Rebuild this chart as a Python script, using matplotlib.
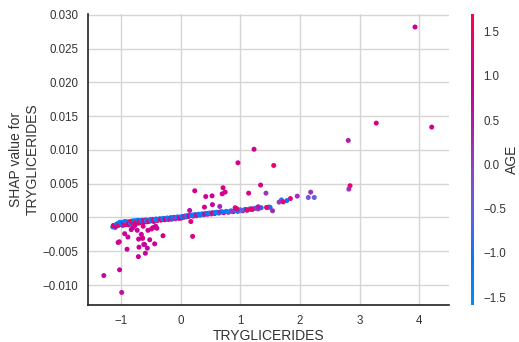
import numpy as np
import matplotlib
matplotlib.use("Agg")
import matplotlib.pyplot as plt
from matplotlib.colors import LinearSegmentedColormap

plt.rcParams['font.family'] = ['Liberation Sans', 'DejaVu Sans']

# feature value (TRYGLICERIDES), shap value, colour feature (AGE)
# main band of points
band_x = [-1.14, -1.12, -1.10, -1.08, -1.06, -1.05, -1.03, -1.01, -1.00, -0.98,
          -0.97, -0.95, -0.93, -0.91, -0.89, -0.87, -0.85, -0.83, -0.81, -0.79,
          -0.77, -0.75, -0.73, -0.71, -0.69, -0.67, -0.65, -0.63, -0.61, -0.59,
          -0.57, -0.55, -0.53, -0.51, -0.49, -0.47, -0.45, -0.43, -0.41, -0.39,
          -0.37, -0.35, -0.33, -0.31, -0.29, -0.27, -0.25, -0.23, -0.21, -0.19,
          -0.17, -0.15, -0.13, -0.11, -0.09, -0.07, -0.05, -0.03, -0.01, 0.01,
          0.03, 0.05, 0.07, 0.09, 0.11, 0.13, 0.15, 0.17, 0.19, 0.21,
          0.24, 0.27, 0.30, 0.33, 0.36, 0.39, 0.42, 0.45, 0.48, 0.51,
          0.54, 0.57, 0.60, 0.64, 0.68, 0.72, 0.76, 0.80, 0.84, 0.88,
          0.92, 0.96, 1.00, 1.04, 1.08, 1.12, 1.16, 1.20, 1.25, 1.30,
          -1.13, -1.09, -1.07, -1.04, -1.02, -0.99, -0.96, -0.94, -0.92, -0.90,
          -0.88, -0.86, -0.84, -0.82, -0.80, -0.78, -0.76, -0.74, -0.72, -0.70,
          -0.68, -0.66, -0.62, -0.60, -0.58, -0.54, -0.50, -0.46, -0.42, -0.38,
          -0.34, -0.30, -0.26, -0.22, -0.18, -0.14, -0.10, -0.06, -0.02, 0.02,
          0.06, 0.10, 0.14, 0.18, 0.22, 0.26, 0.31, 0.35, 0.40, 0.44,
          0.49, 0.53, 0.58, 0.62, 0.66, 0.70, 0.78, 0.86, 0.94, 1.02,
          1.10, 1.18, 1.27, 1.35, 0.94, 1.11, 1.20, 1.30, 1.45, 1.50]
band_y = [-0.00140, -0.00128, -0.00150, -0.00112, -0.00098, -0.00120, -0.00085, -0.00105, -0.00075, -0.00090,
          -0.00118, -0.00070, -0.00095, -0.00062, -0.00080, -0.00110, -0.00058, -0.00075, -0.00052, -0.00090,
          -0.00062, -0.00048, -0.00070, -0.00085, -0.00045, -0.00060, -0.00040, -0.00072, -0.00050, -0.00035,
          -0.00065, -0.00042, -0.00058, -0.00030, -0.00050, -0.00028, -0.00060, -0.00035, -0.00022, -0.00045,
          -0.00030, -0.00018, -0.00040, -0.00025, -0.00012, -0.00035, -0.00020, -0.00008, -0.00030, -0.00015,
          -0.00002, -0.00025, -0.00010, 0.00002, -0.00020, -0.00005, 0.00008, -0.00012, 0.00005, -0.00008,
          0.00014, 0.00002, 0.00022, 0.00008, 0.00026, 0.00014, 0.00033, -0.00060, 0.00036, 0.00020,
          0.00042, 0.00026, 0.00048, 0.00035, 0.00054, 0.00040, 0.00060, 0.00047, 0.00066, 0.00052,
          0.00072, 0.00058, 0.00078, 0.00064, 0.00085, 0.00070, 0.00090, 0.00076, 0.00098, 0.00085,
          0.00105, 0.00090, 0.00113, 0.00098, 0.00120, 0.00108, 0.00128, 0.00118, 0.00136, 0.00126,
          -0.00118, -0.00130, -0.00095, -0.00110, -0.00070, -0.00100, -0.00082, -0.00060, -0.00105, -0.00072,
          -0.00095, -0.00068, -0.00088, -0.00062, -0.00078, -0.00050, -0.00080, -0.00058, -0.00042, -0.00065,
          -0.00075, -0.00050, -0.00045, -0.00062, -0.00048, -0.00055, -0.00042, -0.00040, -0.00030, -0.00035,
          -0.00028, -0.00020, -0.00025, -0.00012, -0.00022, -0.00005, -0.00015, 0.00003, -0.00010, 0.00010,
          0.00015, 0.00018, 0.00024, 0.00027, 0.00034, 0.00036, 0.00042, 0.00046, 0.00050, 0.00058,
          0.00060, 0.00066, 0.00070, 0.00075, 0.00080, 0.00082, 0.00085, 0.00092, 0.00098, 0.00105,
          0.00114, 0.00122, 0.00132, 0.00144, 0.00130, 0.00110, 0.00128, 0.00150, 0.00150, 0.00150]
band_age = [-1.2, -1.0, -0.3, -1.3, 1.4, -1.1, -1.4, 1.2, -1.2, 1.5,
            0.9, -1.3, 1.3, -1.1, 1.5, 1.0, -1.4, 1.4, -1.2, 1.2,
            1.5, -1.3, -1.0, 1.3, -1.2, 1.4, -1.4, 1.1, -1.1, -1.3,
            1.5, -1.2, 0.4, -1.0, 1.3, -1.3, 0.8, -1.1, -1.4, 1.4,
            -0.6, -1.2, 1.2, -1.3, -0.9, 0.6, -1.2, -1.4, 1.4, 0.2,
            -1.1, 0.9, -1.3, 0.3, 1.2, -1.2, -0.8, 0.5, -1.3, 1.3,
            -1.1, 0.1, -1.4, 0.7, -1.2, 1.1, -0.9, 1.2, -1.3, 1.3,
            -1.1, 0.2, -1.4, 1.2, -1.2, -0.3, -1.3, 1.4, -1.0, 0.4,
            -1.4, 1.0, -1.2, -0.2, -1.3, 1.3, -1.1, 0.3, -1.2, 1.4,
            -1.0, -0.4, -1.3, 1.2, -1.1, 0.2, -0.8, 1.4, -1.2, 0.0,
            1.3, 1.0, -1.2, 1.5, -1.3, -1.1, 1.2, -1.2, 1.4, -1.4,
            0.9, 1.5, -0.9, 1.3, 1.5, -1.2, 1.1, 1.4, -1.3, 1.5,
            1.2, -1.1, 1.4, 1.0, -1.3, 1.4, -1.2, 1.2, -1.3, -1.2,
            1.5, -1.4, 1.1, -1.3, 0.5, -1.1, 0.2, -1.3, 1.0, -1.2,
            0.4, -1.3, 0.8, -1.0, -1.3, 0.6, -1.2, -1.4, 0.9, -1.1,
            -1.3, 1.2, -1.2, -1.4, 0.5, -1.1, -1.3, 0.1, -1.2, -0.6,
            -1.3, 1.3, -0.2, -1.1, 1.4, 1.4, 1.3, 0.3, -1.1, -1.0]

# scattered points below the band
low_x = [-1.29, -1.025, -0.99, -1.05, -1.03, -0.90, -0.71, -0.605, -0.56, -0.70,
         -0.62, -0.437, -0.706, -0.66, -0.64, -0.297, -0.886, -0.94, -0.80, -0.40,
         0.20, -0.52, -0.593, -0.465, -0.55, -0.49, -0.42, -0.63, -0.77, -0.73,
         -0.83, -0.644]
low_y = [-0.0086, -0.00775, -0.0111, -0.0037, -0.0036, -0.0047, -0.0058, -0.0040, -0.00455, -0.0044,
         -0.0040, -0.0039, -0.0032, -0.0025, -0.0031, -0.0027, -0.0029, -0.0024, -0.0015, -0.0016,
         -0.0028, -0.0033, -0.0053, -0.0015, -0.0019, -0.0017, -0.0013, -0.0013, -0.0012, -0.0019,
         -0.0018, -0.0030]
low_age = [0.7, 0.9, 0.6, 0.9, 1.0, 0.9, 0.9, 0.7, 0.8, 0.9,
           0.8, 0.9, 0.9, 0.9, 1.0, 1.1, 0.8, 0.9, 0.9, 0.8,
           1.1, 0.9, 0.8, 0.9, 1.0, 1.1, 0.9, 1.2, 1.0, 0.8,
           0.9, 1.0]

# scattered points above the band and to the right
high_x = [0.235, 0.42, 0.526, 0.71, 0.745, 0.695, 0.96, 1.23, 1.56, 1.34,
          1.14, 1.43, 0.532, 0.655, 0.398, 0.913, 1.30, 0.15, 1.955, 2.18,
          2.14, 2.24, 1.84, 1.78, 1.69, 1.65, 1.72, 1.48, 1.44, 1.54,
          2.84, 2.82, 2.81, 3.28, 4.21, 3.93]
high_y = [0.00395, 0.0031, 0.0032, 0.0044, 0.00375, 0.0035, 0.0081, 0.0101, 0.0077, 0.0048,
          0.0036, 0.0036, 0.0019, 0.00163, 0.00153, 0.00144, 0.00158, 0.00104, 0.00316, 0.00375,
          0.00296, 0.00296, 0.0028, 0.0025, 0.0026, 0.00227, 0.0023, 0.00153, 0.00148, 0.00099,
          0.0047, 0.0042, 0.0114, 0.01397, 0.01338, 0.0282]
high_age = [1.0, 1.0, 1.0, 1.1, 1.1, 1.0, 1.0, 1.0, 1.4, 1.1,
            1.1, 0.1, 0.9, 0.3, 1.0, 1.2, 0.5, 0.6, 0.2, 0.2,
            -0.4, -0.5, 1.3, -1.1, -0.9, 0.1, 1.4, -1.1, 1.4, 0.3,
            1.4, 0.2, 0.4, 1.1, 1.0, 0.9]

x = np.array(band_x + low_x + high_x)
y = np.array(band_y + low_y + high_y)
age = np.array(band_age + low_age + high_age)

red_blue = LinearSegmentedColormap.from_list('red_blue', [
    (0.00, '#008bfb'), (0.15, '#0a78f5'), (0.30, '#5a62e6'), (0.45, '#8a48cc'),
    (0.60, '#ab20b0'), (0.75, '#c9009a'), (0.90, '#ec0070'), (1.00, '#ff0052')])

fig = plt.figure(figsize=(5.19, 3.42), dpi=100)
ax = fig.add_axes([88 / 519, 37 / 342, 361 / 519, 291.5 / 342])
cax = fig.add_axes([470.5 / 519, 37 / 342, 3 / 519, 291 / 342])

sc = ax.scatter(x, y, c=age, cmap=red_blue, vmin=-1.59, vmax=1.70, s=13, linewidths=0)

ax.set_xlim(-1.555, 4.5)
ax.set_ylim(-0.01296, 0.0302)
ax.set_xticks([-1, 0, 1, 2, 3, 4])
ax.set_yticks(np.arange(-0.010, 0.0301, 0.005))
ax.yaxis.set_major_formatter(matplotlib.ticker.FuncFormatter(lambda v, p: f"{v:.3f}".replace('-', '\u2212')))
ax.grid(True, color='#d5d5d5', linewidth=1)
ax.set_axisbelow(True)
for side in ['top', 'right']:
    ax.spines[side].set_visible(False)
for side in ['left', 'bottom']:
    ax.spines[side].set_color('#222222')
    ax.spines[side].set_linewidth(1.2)
ax.tick_params(length=0, pad=7, labelsize=8.3, labelcolor='#333333')
ax.set_xlabel("TRYGLICERIDES", fontsize=10, color='#333333', labelpad=2)
ax.set_ylabel("SHAP value for\nTRYGLICERIDES", fontsize=10, color='#333333', labelpad=2)

cb = fig.colorbar(sc, cax=cax)
cb.outline.set_visible(False)
cb.set_ticks([-1.5, -1.0, -0.5, 0.0, 0.5, 1.0, 1.5])
cb.ax.tick_params(length=0, pad=7, labelsize=8.3, labelcolor='#333333')
cb.set_label("AGE", fontsize=10, color='#333333', labelpad=-1)

fig.savefig("out.png", dpi=100)
